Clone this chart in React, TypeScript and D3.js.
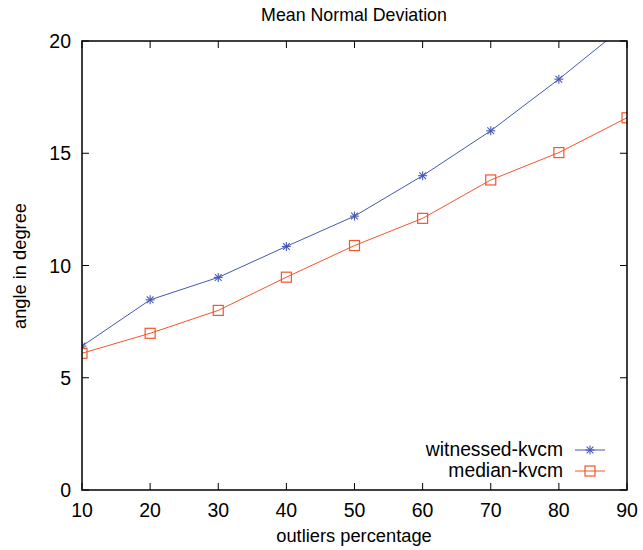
import React from "react";
import * as d3 from "d3";

const xValues = [10, 20, 30, 40, 50, 60, 70, 80, 90];
const witnessed = [6.41, 8.47, 9.47, 10.85, 12.2, 14.0, 16.0, 18.3, 20.75];
const median = [6.09, 6.98, 8.0, 9.48, 10.89, 12.1, 13.81, 15.03, 16.58];
const xTicks = [10, 20, 30, 40, 50, 60, 70, 80, 90];
const yTicks = [0, 5, 10, 15, 20];
const seriesNames = ["witnessed-kvcm", "median-kvcm"];

const W = 643;
const H = 550;
const M = { left: 82, right: 16, top: 41, bottom: 60 };
const BLUE = "#4658b0";
const RED = "#f4552a";
const FONT = "'Liberation Sans', Arial, Helvetica, sans-serif";

function Star({ x, y, color }: { x: number; y: number; color: string }) {
  const r = 4.5;
  const d = r * 0.75;
  return (
    <g stroke={color} strokeWidth={1.1}>
      <line x1={x - r} y1={y} x2={x + r} y2={y} />
      <line x1={x} y1={y - r} x2={x} y2={y + r} />
      <line x1={x - d} y1={y - d} x2={x + d} y2={y + d} />
      <line x1={x - d} y1={y + d} x2={x + d} y2={y - d} />
    </g>
  );
}

function Square({ x, y, color }: { x: number; y: number; color: string }) {
  const s = 10;
  return (
    <rect x={x - s / 2} y={y - s / 2} width={s} height={s} fill="none" stroke={color} strokeWidth={1.2} />
  );
}

export default function App() {
  const x = d3.scaleLinear().domain([10, 90]).range([M.left, W - M.right]);
  const y = d3.scaleLinear().domain([0, 20]).range([H - M.bottom, M.top]);
  const x0 = M.left, x1 = W - M.right, y0 = H - M.bottom, y1 = M.top;
  const line = d3
    .line<number>()
    .x((_, i) => x(xValues[i]))
    .y((d) => y(d));
  const tick = 7;
  const inRange = (v: number) => v >= 0 && v <= 20;

  return (
    <svg width={W} height={H} style={{ position: "absolute", left: 0, top: 0, background: "#fff" }} fontFamily={FONT}>
      <defs>
        <clipPath id="plot">
          <rect x={x0} y={y1} width={x1 - x0} height={y0 - y1} />
        </clipPath>
      </defs>
      <text x={354} y={21} textAnchor="middle" fontSize={17.8} fill="#000">
        Mean Normal Deviation
      </text>
      <g stroke="#000" strokeWidth={1}>
        {xTicks.map((t) => (
          <g key={"x" + t}>
            <line x1={x(t)} x2={x(t)} y1={y0} y2={y0 - tick} />
            <line x1={x(t)} x2={x(t)} y1={y1} y2={y1 + tick} />
          </g>
        ))}
        {yTicks.map((t) => (
          <g key={"y" + t}>
            <line x1={x0} x2={x0 + tick} y1={y(t)} y2={y(t)} />
            <line x1={x1} x2={x1 - tick} y1={y(t)} y2={y(t)} />
          </g>
        ))}
      </g>
      {xTicks.map((t) => (
        <text key={"xl" + t} x={x(t)} y={y0 + 27} textAnchor="middle" fontSize={19.5} fill="#000">
          {t}
        </text>
      ))}
      {yTicks.map((t) => (
        <text key={"yl" + t} x={x0 - 11} y={y(t) + 7} textAnchor="end" fontSize={19.5} fill="#000">
          {t}
        </text>
      ))}
      <text x={354} y={542} textAnchor="middle" fontSize={18.3} fill="#000">
        outliers percentage
      </text>
      <text transform={`translate(26,${266}) rotate(-90)`} textAnchor="middle" fontSize={18.3} fill="#000">
        angle in degree
      </text>
      <g clipPath="url(#plot)">
        <path d={line(witnessed) || ""} fill="none" stroke={BLUE} strokeWidth={1} />
        <path d={line(median) || ""} fill="none" stroke={RED} strokeWidth={1} />
        {witnessed.map((v, i) =>
          inRange(v) ? <Star key={"w" + i} x={x(xValues[i])} y={y(v)} color={BLUE} /> : null
        )}
        {median.map((v, i) =>
          inRange(v) ? <Square key={"m" + i} x={x(xValues[i])} y={y(v)} color={RED} /> : null
        )}
      </g>
      <rect x={x0} y={y1} width={x1 - x0} height={y0 - y1} fill="none" stroke="#000" strokeWidth={1.5} />
      <g>
        <text x={563} y={456} textAnchor="end" fontSize={19.3} fill="#000">
          {seriesNames[0]}
        </text>
        <line x1={575} x2={605} y1={450} y2={450} stroke={BLUE} strokeWidth={1} />
        <Star x={590} y={450} color={BLUE} />
        <text x={563} y={477} textAnchor="end" fontSize={19.3} fill="#000">
          {seriesNames[1]}
        </text>
        <line x1={575} x2={605} y1={471} y2={471} stroke={RED} strokeWidth={1} />
        <Square x={590} y={471} color={RED} />
      </g>
    </svg>
  );
}
